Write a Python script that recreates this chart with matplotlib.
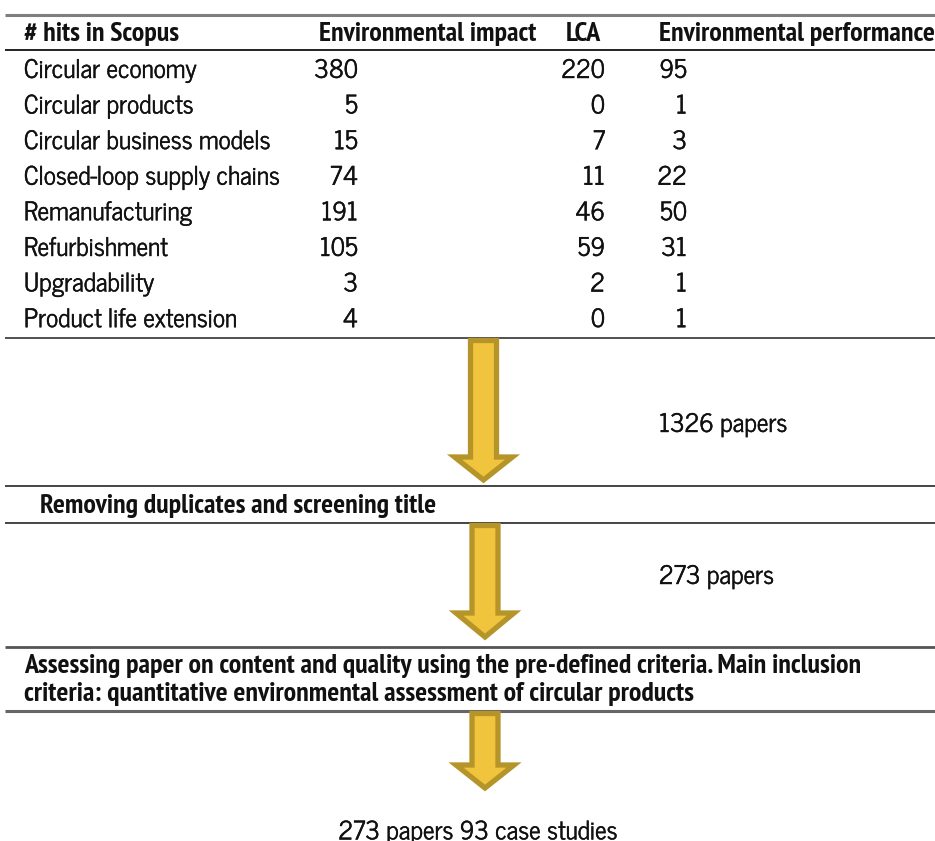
import matplotlib
matplotlib.use("Agg")
import matplotlib.pyplot as plt
from matplotlib.patches import Polygon
from matplotlib import font_manager
import matplotlib.patheffects as pe

# ---- data ----
header = ["# hits in Scopus", "Environmental impact", "LCA", "Environmental performance"]
categories = ["Circular economy", "Circular products", "Circular business models",
              "Closed-loop supply chains", "Remanufacturing", "Refurbishment",
              "Upgradability", "Product life extension"]
env_impact = [380, 5, 15, 74, 191, 105, 3, 4]
lca = [220, 0, 7, 11, 46, 59, 2, 0]
env_perf = [95, 1, 3, 22, 50, 31, 1, 1]
step_labels = ["Removing duplicates and screening title",
               "Assessing paper on content and quality using the pre-defined criteria. Main inclusion",
               "criteria: quantitative environmental assessment of circular products"]
count_labels = ["1326 papers", "273 papers", "273 papers 93 case studies"]

W, H = 935, 841
fig = plt.figure(figsize=(W / 100, H / 100), dpi=100)
ax = fig.add_axes([0, 0, 1, 1])
ax.set_xlim(0, W)
ax.set_ylim(H, 0)
ax.axis("off")

avail = {f.name for f in font_manager.fontManager.ttflist}
def pick(cands):
    for c in cands:
        if c in avail:
            return c
    return "DejaVu Sans"
bold_font = pick(["PT Sans Narrow", "Roboto Condensed", "Archivo Narrow", "Liberation Sans Narrow", "Liberation Sans"])
body_font = pick(["News Cycle", "Liberation Sans"])

renderer = fig.canvas.get_renderer()
def fit_size(text, family, weight, target_px, base=14.0):
    t = ax.text(0, 0, text, fontsize=base, family=family, fontweight=weight)
    w = t.get_window_extent(renderer).width
    t.remove()
    return base * target_px / w

fs_bold = fit_size(step_labels[1], bold_font, "bold", 840)
fs_body = fit_size("Closed-loop supply chains", body_font, "normal", 257)
TXT = "#111111"
thick = [pe.withStroke(linewidth=0.3, foreground=TXT)]

def body(x, y, s, ha="left"):
    ax.text(x, y, s, fontsize=fs_body, family=body_font, va="center", ha=ha, color=TXT,
            path_effects=thick)

def bold(x, y, s):
    ax.text(x, y, s, fontsize=fs_bold, fontweight="bold", family=bold_font, va="center",
            ha="left", color=TXT)

def hline(y, color, lw):
    ax.plot([5, 935], [y, y], color=color, lw=lw, solid_capstyle="butt")

# table
hline(15, "#7f7f7f", 2.2)
hdr_x = [24, 319, 566, 659]
for x, t in zip(hdr_x, header):
    bold(x, 34, t)
hline(49.5, "#111111", 1.3)

row_y0, row_dy = 71.5, 35.6
for i, cat in enumerate(categories):
    y = row_y0 + i * row_dy
    body(24, y, cat)
    body(358, y, str(env_impact[i]), ha="right")
    body(605, y, str(lca[i]), ha="right")
    body(687, y, str(env_perf[i]), ha="right")
hline(338, "#333333", 1.2)

def arrow(cx, top, head_top, tip):
    sw, hw = 13, 29
    pts = [(cx - sw, top + 2.5), (cx + sw, top + 2.5), (cx + sw, head_top), (cx + hw, head_top),
           (cx, tip), (cx - hw, head_top), (cx - sw, head_top)]
    ax.add_patch(Polygon(pts, closed=True, facecolor="#f0c43c", edgecolor="#b5952a",
                         lw=3.8, joinstyle="miter", zorder=3))

arrow(483.5, 338, 457, 480)
body(659, 425.5, count_labels[0])
hline(486, "#444444", 1.4)
bold(40, 506.5, step_labels[0])
hline(523, "#444444", 1.4)
arrow(485, 523, 613, 637)
body(659, 577.5, count_labels[1])
hline(647, "#555555", 2.0)
bold(24, 666.5, step_labels[1])
bold(24, 693.5, step_labels[2])
hline(711, "#666666", 2.2)
arrow(485, 711, 765, 788)
body(478, 833, count_labels[2], ha="center")

fig.savefig("out.png", dpi=100)
